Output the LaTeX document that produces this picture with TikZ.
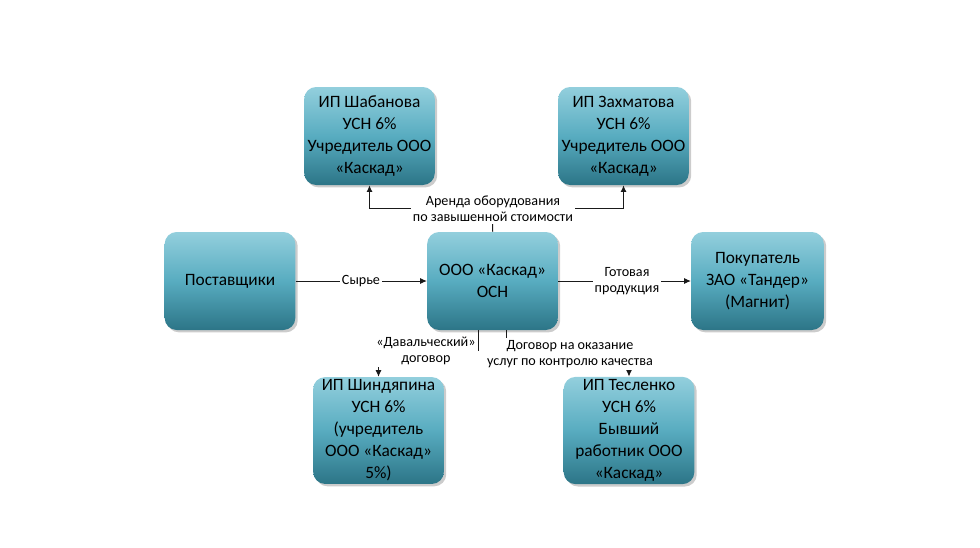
\documentclass[tikz,border=0pt]{standalone}
\usepackage{fontspec}
\setmainfont{Carlito}
\usetikzlibrary{arrows.meta,shadows}
\definecolor{boxtop}{HTML}{93CFDD}
\definecolor{boxmid}{HTML}{58ACC0}
\definecolor{boxbot}{HTML}{2C7587}
\definecolor{linec}{HTML}{1A1A1A}
\tikzset{
  box/.style={rounded corners=9pt, top color=boxtop, bottom color=boxbot, middle color=boxmid,
    drop shadow={shadow xshift=1.8pt, shadow yshift=-1.8pt, opacity=.4},
    minimum width=98pt, minimum height=73.5pt, align=center, inner sep=2pt,
    font=\fontsize{13}{16.5}\selectfont, text=black},
  conn/.style={draw=linec, line width=0.75pt},
  arr/.style={conn, -{Latex[length=5pt,width=4.5pt]}},
  lbl/.style={fill=white, align=center, inner sep=1.5pt, font=\fontsize{10.6}{12}\selectfont, text=black}
}
\begin{document}
\begin{tikzpicture}[x=0.75pt,y=-0.75pt]
\useasboundingbox (0,0) rectangle (980,547);
\node[box] (shab) at (369.5,136) {ИП Шабанова\\УСН 6\%\\Учредитель ООО\\«Каскад»};
\node[box] (zakh) at (623.5,136) {ИП Захматова\\УСН 6\%\\Учредитель ООО\\«Каскад»};
\node[box] (post) at (230,281) {Поставщики};
\node[box] (osn) at (492.5,281) {ООО «Каскад»\\ОСН};
\node[box, minimum width=99.5pt] (pok) at (757.5,281) {Покупатель\\ЗАО «Тандер»\\(Магнит)};
\node[box, minimum height=74pt] (shin) at (378.5,430.5) {ИП Шиндяпина\\УСН 6\%\\(учредитель\\ООО «Каскад»\\5\%)};
\node[box, minimum height=74pt] (tes) at (629,430.5) {ИП Тесленко\\УСН 6\%\\Бывший\\работник ООО\\«Каскад»};

\coordinate (aj) at (493,208);
\coordinate (d1) at (478,350);
\coordinate (d2) at (378.5,350);
\coordinate (e1) at (506,354);
\coordinate (e2) at (629,354);

\draw[conn] (osn.north) -- (aj);
\draw[arr] (aj) -| (shab.south);
\draw[arr] (aj) -| (zakh.south);
\draw[arr] (post.east) -- (osn.west);
\draw[arr] (osn.east) -- (pok.west);
\draw[conn] (osn.south -| d1) -- (d1) -- (d2);
\draw[arr] (d2) -- (shin.north);
\draw[conn] (osn.south -| e1) -- (e1) -- (e2);
\draw[arr] (e2) -- (tes.north);

\node[lbl] (la) at (493,209) {Аренда оборудования\\по завышенной стоимости};
\node[lbl] (ls) at (361,281) {Сырье};
\node[lbl] (lg) at (627,281) {Готовая\\продукция};
\node[lbl] (ld) at (426,351) {«Давальческий»\\договор};
\node[lbl] (le) at (570,354) {Договор на оказание\\услуг по контролю качества};
\end{tikzpicture}
\end{document}
